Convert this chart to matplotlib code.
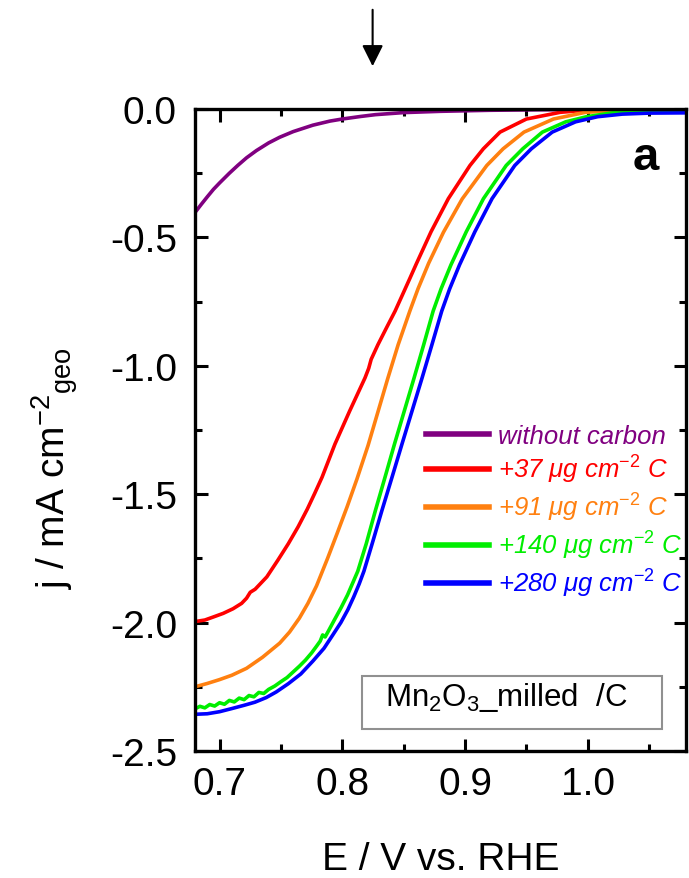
import matplotlib
matplotlib.use("Agg")
import matplotlib.pyplot as plt
from matplotlib.ticker import MultipleLocator, FormatStrFormatter
from matplotlib.patches import Rectangle

plt.rcParams["font.family"] = ["Liberation Sans", "DejaVu Sans"]
plt.rcParams["mathtext.fontset"] = "custom"
plt.rcParams["mathtext.rm"] = "Liberation Sans"
plt.rcParams["mathtext.it"] = "Liberation Sans:italic"
plt.rcParams["mathtext.bf"] = "Liberation Sans:bold"
plt.rcParams["axes.unicode_minus"] = False

# Data -----------------------------------------------------------------

# without carbon
E_none = [0.680, 0.685, 0.690, 0.695, 0.700, 0.708, 0.715, 0.722, 0.730, 0.740,
          0.749, 0.760, 0.776, 0.790, 0.800, 0.815, 0.827, 0.850, 0.880, 0.920,
          0.960, 1.000, 1.080]
j_none = [-0.403, -0.372, -0.342, -0.313, -0.288, -0.250, -0.219, -0.190, -0.162, -0.132,
          -0.110, -0.088, -0.063, -0.047, -0.039, -0.029, -0.022, -0.014, -0.009, -0.005,
          -0.003, -0.002, -0.002]

# +37 ug cm-2 C
E_37 = [0.680, 0.688, 0.695, 0.703, 0.711, 0.718, 0.722, 0.725, 0.729, 0.7385,
        0.7475, 0.756, 0.764, 0.7715, 0.7775, 0.7835, 0.794, 0.806, 0.8185, 0.8215,
        0.8235, 0.829, 0.836, 0.843, 0.8484, 0.855, 0.8603, 0.8723, 0.8864, 0.904,
        0.9149, 0.9285, 0.950, 0.9774, 1.000, 1.030, 1.080]
j_37 = [-1.996, -1.990, -1.978, -1.964, -1.946, -1.925, -1.905, -1.882, -1.870, -1.822,
        -1.757, -1.693, -1.627, -1.558, -1.497, -1.434, -1.305, -1.176, -1.047, -1.010,
        -0.975, -0.918, -0.852, -0.787, -0.730, -0.660, -0.603, -0.478, -0.349, -0.220,
        -0.155, -0.090, -0.039, -0.013, -0.004, -0.001, 0.000]

# +91 ug cm-2 C
E_91 = [0.680, 0.690, 0.700, 0.710, 0.722, 0.735, 0.749, 0.757, 0.765, 0.772,
        0.779, 0.788, 0.796, 0.804, 0.812, 0.821, 0.829, 0.837, 0.8455, 0.855,
        0.8617, 0.8704, 0.8824, 0.8977, 0.9177, 0.931, 0.948, 0.972, 0.998, 1.030,
        1.080]
j_91 = [-2.250, -2.237, -2.222, -2.205, -2.178, -2.135, -2.080, -2.037, -1.983, -1.925,
        -1.857, -1.750, -1.650, -1.548, -1.440, -1.310, -1.180, -1.050, -0.918, -0.787,
        -0.700, -0.600, -0.480, -0.350, -0.220, -0.155, -0.090, -0.039, -0.013, -0.004,
        -0.002]

# +140 ug cm-2 C (noisy at the bottom)
E_140 = [0.680, 0.684, 0.688, 0.692, 0.696, 0.700, 0.704, 0.708, 0.712, 0.716,
         0.720, 0.724, 0.728, 0.732, 0.736, 0.740, 0.745, 0.750, 0.755, 0.760,
         0.765, 0.770, 0.775, 0.779, 0.782, 0.784, 0.786, 0.789, 0.7935, 0.799,
         0.8043, 0.8126, 0.8195, 0.827, 0.8348, 0.8425, 0.8505, 0.8585, 0.8663, 0.874,
         0.8805, 0.8885, 0.901, 0.915, 0.9335, 0.947, 0.963, 0.982, 0.999, 1.020,
         1.050, 1.080]
j_140 = [-2.336, -2.326, -2.332, -2.319, -2.325, -2.312, -2.318, -2.303, -2.309, -2.294,
         -2.300, -2.284, -2.289, -2.272, -2.276, -2.260, -2.247, -2.230, -2.214, -2.192,
         -2.170, -2.146, -2.118, -2.092, -2.072, -2.048, -2.056, -2.030, -1.990, -1.942,
         -1.892, -1.800, -1.693, -1.563, -1.434, -1.305, -1.176, -1.047, -0.918, -0.787,
         -0.700, -0.607, -0.478, -0.349, -0.220, -0.155, -0.090, -0.050, -0.030, -0.015,
         -0.008, -0.006]

# +280 ug cm-2 C
E_280 = [0.680, 0.690, 0.700, 0.7098, 0.720, 0.7288, 0.738, 0.7462, 0.756, 0.7662,
         0.776, 0.7851, 0.792, 0.7988, 0.8045, 0.8093, 0.8137, 0.8176, 0.8245, 0.8323,
         0.8405, 0.8486, 0.8568, 0.865, 0.873, 0.881, 0.8875, 0.8955, 0.908, 0.922,
         0.9405, 0.954, 0.971, 0.990, 1.008, 1.028, 1.050, 1.080]
j_280 = [-2.357, -2.355, -2.347, -2.335, -2.322, -2.310, -2.292, -2.270, -2.238, -2.200,
         -2.150, -2.100, -2.050, -2.000, -1.950, -1.900, -1.850, -1.800, -1.690, -1.563,
         -1.434, -1.305, -1.176, -1.047, -0.918, -0.787, -0.700, -0.607, -0.478, -0.349,
         -0.220, -0.155, -0.090, -0.050, -0.030, -0.020, -0.016, -0.015]

series = [
    (E_none, j_none, "without carbon", "#800080"),
    (E_37, j_37, r"+37 μg cm$^{\mathit{-2}}$ C", "#ff0000"),
    (E_91, j_91, r"+91 μg cm$^{\mathit{-2}}$ C", "#ff8010"),
    (E_140, j_140, r"+140 μg cm$^{\mathit{-2}}$ C", "#00ee00"),
    (E_280, j_280, r"+280 μg cm$^{\mathit{-2}}$ C", "#0000ff"),
]

x_ticks = [0.7, 0.8, 0.9, 1.0]
y_ticks = [-2.5, -2.0, -1.5, -1.0, -0.5, 0.0]

# Plot -----------------------------------------------------------------

fig = plt.figure(figsize=(6.89, 8.79), dpi=100)
ax = fig.add_axes([195 / 689, 127 / 879, 491 / 689, 642 / 879])

for E, j, label, color in series:
    ax.plot(E, j, color=color, lw=2.6, label=label)

ax.set_xlim(0.68, 1.08)
ax.set_ylim(-2.5, 0.0)
ax.set_xticks(x_ticks)
ax.set_yticks(y_ticks)
ax.xaxis.set_minor_locator(MultipleLocator(0.05))
ax.yaxis.set_minor_locator(MultipleLocator(0.25))
ax.xaxis.set_major_formatter(FormatStrFormatter("%.1f"))
ax.yaxis.set_major_formatter(FormatStrFormatter("%.1f"))

ax.tick_params(which="both", direction="in", top=True, right=True, width=2.2)
ax.tick_params(which="major", length=9, labelsize=28)
ax.tick_params(axis="y", which="major", pad=13)
ax.tick_params(axis="x", which="major", pad=11)
ax.tick_params(which="minor", length=5)
for sp in ax.spines.values():
    sp.set_linewidth(2.4)

ax.set_xlabel("E / V vs. RHE", fontsize=28)
ax.xaxis.set_label_coords(0.5, -0.14)
ax.set_ylabel(r"j / mA cm$^{\mathregular{-2}}$$_{\mathregular{geo}}$", fontsize=28)
ax.yaxis.set_label_coords(-0.235, 0.442)

leg = ax.legend(loc="upper left", bbox_to_anchor=(0.47, 0.510), frameon=False,
                prop={"style": "italic", "size": 18.5}, handlelength=2.45,
                handletextpad=0.38, labelspacing=0.22, borderpad=0, borderaxespad=0)
for txt, (_, _, _, color) in zip(leg.get_texts(), series):
    txt.set_color(color)
for h in leg.get_lines():
    h.set_linewidth(4)

ax.text(0.9175, 0.9065, "a", transform=ax.transAxes, fontsize=34,
        fontweight="bold", ha="center", va="baseline")

ax.add_patch(Rectangle((0.340, 0.0343), 0.611, 0.0825, transform=ax.transAxes,
                       facecolor="white", edgecolor="#909090", lw=1.5, zorder=3))
ax.text(0.635, 0.072, r"Mn$_{\mathregular{2}}$O$_{\mathregular{3}}$_milled  /C",
        transform=ax.transAxes, fontsize=22.5, ha="center", va="baseline", zorder=4)

ax.annotate("", xy=(0.8247, 1 - 70 / 879), xytext=(0.8247, 1 - 8 / 879),
            xycoords=("data", "figure fraction"), textcoords=("data", "figure fraction"),
            arrowprops=dict(arrowstyle="-|>", mutation_scale=32, lw=1.5, color="black"),
            annotation_clip=False)

fig.savefig("out.png", dpi=100)
